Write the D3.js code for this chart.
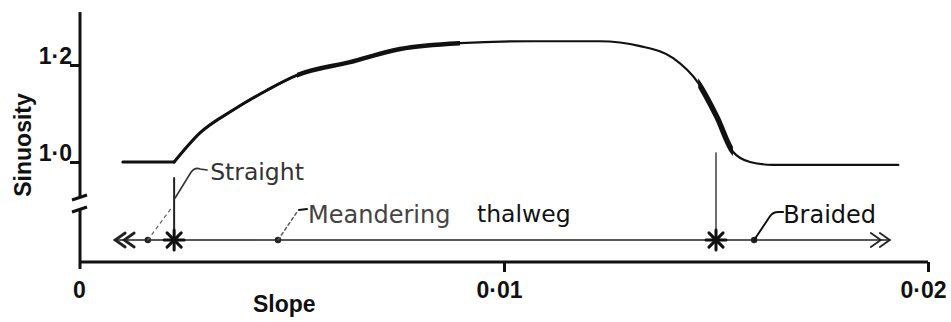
<!DOCTYPE html>
<html>
<head>
<meta charset="utf-8">
<script src="https://cdn.jsdelivr.net/npm/d3@7"></script>
<style>
body { margin: 0; background: #fff; }
svg { display: block; }
</style>
</head>
<body>
<div id="chart"></div>
<script>
'use strict';

// sinuosity against channel slope
var slope     = [0.00101, 0.00222, 0.00283, 0.00361, 0.00441, 0.00512, 0.00637, 0.00755, 0.00896,
                 0.01068, 0.01226, 0.01321, 0.01399, 0.01458, 0.01502, 0.01540, 0.01580, 0.01634, 0.01930];
var sinuosity = [1.000, 1.000, 1.060, 1.107, 1.148, 1.179, 1.206, 1.233, 1.245,
                 1.249, 1.249, 1.239, 1.214, 1.163, 1.093, 1.021, 1.000, 0.994, 0.994];

var xTicks = [0, 0.01, 0.02];
var xTickLabels = ['0', '0·01', '0·02'];
var yTicks = [1.0, 1.2];
var yTickLabels = ['1·0', '1·2'];

// regime row under the curve
var rowEnds = [0.00083, 0.0191];
var thresholds = [0.00222, 0.0150];
var thresholdTops = [0.967, 1.019];
var regimeDots = [0.0016, 0.00467, 0.0159];
var regimeNames = ['Straight', 'Meandering', 'Braided'];

// pen weight along the hand-drawn curve
var pen = [
    { from: 0.00101, to: 0.00222, w: 3 },
    { from: 0.00222, to: 0.00512, w: 3 },
    { from: 0.00512, to: 0.00896, w: 4.5 },
    { from: 0.00896, to: 0.01458, w: 2 },
    { from: 0.01458, to: 0.01540, w: 5.5 },
    { from: 0.01540, to: 0.01930, w: 2 }
];

var W = 951, H = 322;
var rowY = 240;
var axisY = 262;

var svg = d3.select('#chart').append('svg').attr('width', W).attr('height', H);

var x = d3.scaleLinear().domain([0, 0.02]).range([80, 928]);
var y = d3.scaleLinear().domain([1.0, 1.2]).range([162, 65]);

var pts = slope.map(function (s, i) { return [s, sinuosity[i]]; });

var line = d3.line()
    .x(function (d) { return x(d[0]); })
    .y(function (d) { return y(d[1]); })
    .curve(d3.curveMonotoneX);

var curveG = svg.append('g').attr('fill', 'none').attr('stroke', '#111')
    .attr('stroke-linecap', 'round').attr('stroke-linejoin', 'round');

// flat start is a straight run, the rest is smooth
curveG.append('path')
    .attr('d', d3.line().x(function (d) { return x(d[0]); }).y(function (d) { return y(d[1]); })(pts.slice(0, 2)))
    .attr('stroke-width', 3);
curveG.append('path').attr('d', line(pts.slice(1))).attr('stroke-width', 2.2);

// thicker stretches: redraw the same curve clipped to each slope range
var defs = svg.append('defs');
pen.forEach(function (p, i) {
    if (p.w <= 2.2) return;
    defs.append('clipPath').attr('id', 'pen' + i).append('rect')
        .attr('x', x(p.from)).attr('y', 0).attr('width', x(p.to) - x(p.from)).attr('height', H);
    curveG.append('path').attr('d', line(pts.slice(1)))
        .attr('stroke-width', p.w).attr('clip-path', 'url(#pen' + i + ')');
});

// axes
var xAxis = d3.axisBottom(x).tickValues(xTicks).tickSize(10)
    .tickFormat(function (d, i) { return xTickLabels[i]; });
var gx = svg.append('g').attr('transform', 'translate(0,' + axisY + ')').call(xAxis);
gx.select('.domain').remove();
gx.selectAll('line').attr('stroke', '#111').attr('stroke-width', 3);
gx.selectAll('text').attr('y', 36).attr('dy', 0)
    .attr('font-family', 'Liberation Sans, Arial, sans-serif').attr('font-weight', 'bold')
    .attr('font-size', 23).attr('fill', '#111');
gx.selectAll('.tick').filter(function (d) { return d === 0; }).select('line').remove();
gx.selectAll('.tick text').attr('x', function (d) { return d === 0 ? -1 : -5; });

svg.append('line').attr('x1', x(0)).attr('x2', x(0.02)).attr('y1', axisY).attr('y2', axisY)
    .attr('stroke', '#111').attr('stroke-width', 3);

var yAxis = d3.axisLeft(y).tickValues(yTicks).tickSize(10)
    .tickFormat(function (d, i) { return yTickLabels[i]; });
var gy = svg.append('g').attr('transform', 'translate(' + x(0) + ',0)').call(yAxis);
gy.select('.domain').remove();
gy.selectAll('line').attr('stroke', '#111').attr('stroke-width', 3);
gy.selectAll('text').attr('x', -8).attr('dy', -2)
    .attr('font-family', 'Liberation Sans, Arial, sans-serif').attr('font-weight', 'bold')
    .attr('font-size', 23).attr('fill', '#111');

// broken y axis
var ax = svg.append('g').attr('stroke', '#111').attr('stroke-width', 3).attr('fill', 'none');
ax.append('line').attr('x1', x(0)).attr('x2', x(0)).attr('y1', 12).attr('y2', 198);
ax.append('line').attr('x1', x(0)).attr('x2', x(0)).attr('y1', 209).attr('y2', 269);
ax.append('line').attr('x1', x(0) - 8).attr('x2', x(0) + 7).attr('y1', 200).attr('y2', 195);
ax.append('line').attr('x1', x(0) - 8).attr('x2', x(0) + 7).attr('y1', 212).attr('y2', 207);

// axis titles
svg.append('text').text('Slope')
    .attr('x', 253).attr('y', 312)
    .attr('font-family', 'Liberation Sans, Arial, sans-serif').attr('font-weight', 'bold')
    .attr('font-size', 23).attr('fill', '#111');
svg.append('text').text('Sinuosity')
    .attr('transform', 'translate(31,145) rotate(-90)')
    .attr('text-anchor', 'middle')
    .attr('font-family', 'Liberation Sans, Arial, sans-serif').attr('font-weight', 'bold')
    .attr('font-size', 23).attr('fill', '#111');

// regime row
var row = svg.append('g').attr('stroke', '#222').attr('fill', 'none').attr('stroke-linecap', 'round');
row.append('line').attr('x1', x(rowEnds[0])).attr('x2', x(rowEnds[1])).attr('y1', rowY).attr('y2', rowY)
    .attr('stroke-width', 1.6);

[0, 9].forEach(function (off) {
    var lx = x(rowEnds[0]) + off;
    row.append('path').attr('d', 'M' + (lx + 10) + ',' + (rowY - 7) + 'L' + lx + ',' + rowY + 'L' + (lx + 10) + ',' + (rowY + 7))
        .attr('stroke-width', 2.8);
    var rx = x(rowEnds[1]) - off;
    row.append('path').attr('d', 'M' + (rx - 10) + ',' + (rowY - 7) + 'L' + rx + ',' + rowY + 'L' + (rx - 10) + ',' + (rowY + 7))
        .attr('stroke-width', 1.8);
});

thresholds.forEach(function (t, i) {
    var cx = x(t);
    row.append('line').attr('x1', cx).attr('x2', cx).attr('y1', y(thresholdTops[i])).attr('y2', rowY)
        .attr('stroke-width', i === 0 ? 2 : 1.3);
    [0, 45, 90, 135].forEach(function (a) {
        var r = 10, rad = a * Math.PI / 180;
        row.append('line')
            .attr('x1', cx - r * Math.cos(rad)).attr('y1', rowY - r * Math.sin(rad))
            .attr('x2', cx + r * Math.cos(rad)).attr('y2', rowY + r * Math.sin(rad))
            .attr('stroke', '#111').attr('stroke-width', 3);
    });
});

svg.selectAll('circle.dot').data(regimeDots).enter().append('circle')
    .attr('class', 'dot').attr('cx', function (d) { return x(d); }).attr('cy', rowY).attr('r', 3.2)
    .attr('fill', '#222');

// leaders and labels
var lead = svg.append('g').attr('fill', 'none').attr('stroke', '#333').attr('stroke-linecap', 'round');
var d0 = x(regimeDots[0]), d1 = x(regimeDots[1]), d2 = x(regimeDots[2]), t0 = x(thresholds[0]);
lead.append('path').attr('d', 'M' + d0 + ',' + rowY + 'L' + (t0 - 2) + ',' + (rowY - 33))
    .attr('stroke-width', 1.3).attr('stroke-dasharray', '3,4').attr('stroke', '#666');
lead.append('path').attr('d', 'M' + (t0 + 1) + ',' + (rowY - 42) + 'L' + (t0 + 17) + ',' + (rowY - 68) +
    'Q' + (t0 + 21) + ',' + (rowY - 73) + ' ' + (t0 + 26) + ',' + (rowY - 71) + 'L' + (t0 + 33) + ',' + (rowY - 70))
    .attr('stroke-width', 1.6);
lead.append('path').attr('d', 'M' + d1 + ',' + rowY + 'L' + (d1 + 19) + ',' + (rowY - 28))
    .attr('stroke-width', 1.5).attr('stroke-dasharray', '3,3').attr('stroke', '#555');
lead.append('path').attr('d', 'M' + (d1 + 21) + ',' + (rowY - 30) + 'L' + (d1 + 29) + ',' + (rowY - 31))
    .attr('stroke-width', 2).attr('stroke', '#111');
lead.append('path').attr('d', 'M' + d2 + ',' + rowY + 'L' + (d2 + 16) + ',' + (rowY - 24) +
    'Q' + (d2 + 19) + ',' + (rowY - 28) + ' ' + (d2 + 24) + ',' + (rowY - 28) + 'L' + (d2 + 29) + ',' + (rowY - 28))
    .attr('stroke-width', 2).attr('stroke', '#111');

var labelFont = 'DejaVu Sans, Verdana, sans-serif';
svg.append('text').text(regimeNames[0]).attr('x', t0 + 36).attr('y', rowY - 60)
    .attr('font-family', labelFont).attr('font-size', 23.5).attr('fill', '#333');
svg.append('text').text(regimeNames[1]).attr('x', d1 + 30).attr('y', rowY - 17)
    .attr('font-family', labelFont).attr('font-size', 24).attr('fill', '#444');
svg.append('text').text('thalweg').attr('x', 477).attr('y', rowY - 18)
    .attr('font-family', labelFont).attr('font-size', 23.5).attr('fill', '#111');
svg.append('text').text(regimeNames[2]).attr('x', d2 + 29).attr('y', rowY - 17)
    .attr('font-family', labelFont).attr('font-size', 24).attr('fill', '#111');
</script>
</body>
</html>
